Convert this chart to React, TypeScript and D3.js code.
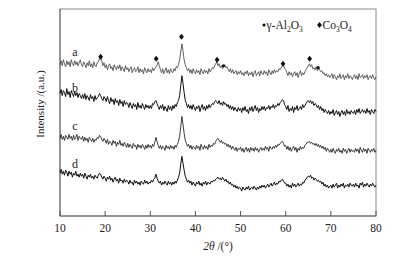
import React from "react";
import * as d3 from "d3";

// 2θ grid (degrees), 0.25° steps
const TWO_THETA: number[] = d3.range(10, 80.001, 0.25);
const X_TICKS = [10, 20, 30, 40, 50, 60, 70, 80];

// Intensities (a.u., arbitrary offset per curve)
const seriesA = [
  152,156,151,157,153,150,156,152,155,150,157,153,151,156,152,155,151,154,157,152,
  150,155,152,149,154,151,156,150,153,149,155,151,150,154,155,158,160,156,151,154,
  149,152,147,151,153,148,150,146,152,149,147,151,148,152,146,150,148,145,151,147,
  149,145,148,150,144,147,149,145,146,150,144,148,145,147,143,149,146,144,148,145,
  147,144,149,146,148,150,151,155,151,147,144,148,143,146,149,144,147,143,148,145,
  144,148,146,150,149,152,157,165,173,166,157,152,149,146,148,144,147,143,148,145,
  143,147,144,146,142,148,145,143,147,144,146,143,148,145,147,149,148,151,153,155,
  151,153,149,151,148,150,152,149,150,147,145,148,144,147,143,145,146,142,145,143,
  146,142,144,141,145,143,146,141,144,142,145,140,144,146,141,143,145,141,146,143,
  142,146,143,145,141,147,144,142,146,143,147,144,146,145,148,147,149,151,152,148,
  147,144,141,145,142,144,140,143,145,141,144,139,143,146,141,144,142,145,147,149,
  151,153,150,152,148,149,147,150,146,148,147,145,146,143,144,141,143,140,142,139,
  141,143,138,142,140,137,141,139,143,138,140,142,137,141,139,143,138,141,140,137,
  140,142,138,141,137,143,139,140,142,138,141,139,142,137,140,141,138,142,139,137,
  140,
];
const seriesB = [
  123,127,121,126,124,120,128,122,125,119,126,123,120,125,121,124,119,123,121,118,
  122,118,123,117,121,119,116,122,118,120,115,121,117,119,120,123,121,118,116,120,
  118,115,120,116,113,119,115,117,112,118,114,116,111,117,113,115,110,116,112,114,
  113,109,114,111,108,113,110,112,107,114,109,111,108,113,110,107,112,109,111,108,
  111,108,113,112,115,116,113,110,107,111,108,112,106,110,108,105,111,107,110,106,
  111,108,112,110,114,116,121,131,141,133,124,116,113,109,112,108,111,107,112,109,
  106,110,108,111,105,109,112,107,110,106,111,108,112,109,111,113,112,115,116,114,
  113,116,112,114,111,115,112,113,110,112,108,111,107,110,106,109,107,105,109,106,
  108,104,109,106,110,105,107,103,109,106,110,105,108,111,106,109,104,108,106,110,
  107,110,106,109,108,111,107,110,109,112,108,111,110,113,111,114,115,117,116,112,
  110,107,111,105,108,106,110,104,109,107,111,106,108,110,107,112,109,111,113,115,
  116,114,116,113,115,111,113,112,109,111,107,110,106,108,104,107,105,103,106,102,
  105,103,107,101,104,106,102,105,100,104,106,102,105,101,107,103,105,102,106,104,
  103,106,102,107,104,108,103,105,107,104,106,103,108,104,106,102,107,105,103,107,
  105,
];
const seriesC = [
  78,82,77,80,76,81,79,77,82,78,80,76,81,77,79,82,76,80,78,77,
  80,75,79,76,78,74,79,77,75,78,74,77,76,79,78,81,80,77,75,78,
  76,73,77,72,75,74,71,76,73,75,70,74,72,76,71,73,70,74,72,69,
  73,69,72,70,68,73,70,71,67,72,69,71,68,72,70,67,71,68,72,69,
  71,68,72,70,74,79,75,71,68,71,67,70,69,66,71,68,70,67,71,68,
  70,67,71,69,72,75,80,90,100,92,83,76,73,70,72,68,71,67,70,69,
  67,71,68,70,66,72,69,67,71,68,70,67,72,69,71,70,73,72,75,77,
  78,76,74,76,73,74,72,73,70,72,69,71,67,70,68,66,69,65,68,67,
  69,65,68,64,67,69,65,68,64,69,66,68,65,69,66,68,64,67,69,66,
  68,66,70,67,69,65,70,68,67,70,68,71,69,72,71,73,74,75,73,70,
  71,67,70,66,69,65,68,70,66,69,64,68,66,70,67,69,68,71,72,74,
  74,75,73,74,72,73,71,73,70,72,69,71,68,70,67,69,65,68,66,64,
  67,64,68,65,63,67,65,68,64,66,63,68,65,67,63,66,68,64,67,65,
  66,64,68,65,67,63,69,66,64,68,65,67,63,68,66,64,67,65,68,64,
  66,
];
const seriesD = [
  43,47,42,45,41,46,44,40,45,42,44,39,43,41,45,40,42,39,43,40,
  42,38,43,40,37,41,39,42,38,40,37,41,39,38,41,43,42,39,37,40,
  38,35,39,37,40,36,38,34,37,39,35,37,33,38,35,36,33,37,34,36,
  35,32,36,33,34,31,36,33,35,32,34,31,35,33,32,36,33,35,32,34,
  33,36,34,37,38,42,38,35,33,35,31,34,32,35,33,31,35,32,34,31,
  34,32,35,33,36,39,43,52,60,53,46,40,37,34,36,33,35,31,34,32,
  30,34,32,35,31,33,30,34,32,35,31,34,33,32,35,34,36,35,37,38,
  39,37,38,36,39,37,35,37,34,35,32,34,31,32,29,31,28,30,27,29,
  28,25,29,27,26,29,27,30,26,28,29,27,30,28,26,29,27,30,28,31,
  29,31,28,30,32,29,31,33,30,32,34,31,33,32,35,34,36,37,35,33,
  33,30,32,29,31,28,33,30,32,29,31,33,30,32,31,34,33,36,37,39,
  40,39,41,38,39,36,38,37,35,36,34,35,32,34,30,32,29,31,28,30,
  31,28,32,29,31,33,28,31,29,32,30,33,28,31,30,32,29,33,31,30,
  32,29,33,30,31,28,33,31,34,29,32,30,33,31,29,32,30,33,31,29,
  31,
];

const SERIES = [
  { name: "a", values: seriesA, color: "#444", width: 0.85, labelY: 161 },
  { name: "b", values: seriesB, color: "#0d0d0d", width: 1, labelY: 125 },
  { name: "c", values: seriesC, color: "#262626", width: 0.9, labelY: 86.5 },
  { name: "d", values: seriesD, color: "#0d0d0d", width: 1, labelY: 48.5 },
];

// phase markers above curve a
const co3o4Pos = [19, 31.3, 36.9, 44.8, 59.4, 65.3];
const co3o4Int = [160, 158, 180, 157, 153, 158];
const al2o3Pos = [46.2, 67.2];
const al2o3Int = [151, 149];

const W = 395;
const H = 260;
const M = { left: 60, right: 19, top: 9, bottom: 43 };
const FONT = "'Liberation Serif', 'Times New Roman', serif";

const diamond = (cx: number, cy: number) =>
  `M${cx},${cy - 3}L${cx + 2.4},${cy}L${cx},${cy + 3}L${cx - 2.4},${cy}Z`;

export default function App() {
  const x = d3.scaleLinear().domain([10, 80]).range([M.left, W - M.right]);
  const y = d3.scaleLinear().domain([0, 208]).range([H - M.bottom - 1, M.top]);
  const line = d3
    .line<number>()
    .x((_, i) => x(TWO_THETA[i]))
    .y((v) => y(v));
  const x0 = x(10);
  const x1 = x(80);
  const yTop = M.top;
  const yBot = H - M.bottom - 1;

  return (
    <svg
      width={W}
      height={H}
      style={{ position: "absolute", left: 0, top: 0, background: "#fff" }}
      fontFamily={FONT}
    >
      <rect x={0} y={0} width={W} height={H} fill="#fff" />
      {/* frame */}
      <rect x={x0} y={yTop} width={x1 - x0} height={yBot - yTop} fill="none" stroke="#8a8a8a" strokeWidth={1} />
      <line x1={x0} x2={x1} y1={yBot} y2={yBot} stroke="#666" />
      <line x1={x0} x2={x0} y1={yTop} y2={yBot} stroke="#666" />
      {/* x ticks */}
      {X_TICKS.map((t) => (
        <g key={t}>
          <line x1={x(t)} x2={x(t)} y1={yBot} y2={yBot - 5} stroke="#555" />
          <text x={x(t)} y={232} textAnchor="middle" fontSize={11.5} fill="#222">
            {t}
          </text>
        </g>
      ))}
      {/* axis titles */}
      <text x={(x0 + x1) / 2} y={250} textAnchor="middle" fontSize={11.5} fill="#222">
        <tspan fontStyle="italic">2θ</tspan> /(°)
      </text>
      <text
        transform={`translate(44,${104}) rotate(-90)`}
        textAnchor="middle"
        fontSize={11}
        fill="#222"
      >
        Intensity /(a.u.)
      </text>
      {/* curves */}
      {SERIES.map((s) => (
        <path key={s.name} d={line(s.values) || ""} fill="none" stroke={s.color} strokeWidth={s.width} strokeLinejoin="miter" />
      ))}
      {/* curve labels */}
      {SERIES.map((s) => (
        <text key={"l" + s.name} x={75} y={y(s.labelY)} textAnchor="middle" fontSize={12} fill="#222">
          {s.name}
        </text>
      ))}
      {/* markers */}
      {co3o4Pos.map((p, i) => (
        <path key={"d" + i} d={diamond(x(p), y(co3o4Int[i]))} fill="#111" />
      ))}
      {al2o3Pos.map((p, i) => (
        <circle key={"c" + i} cx={x(p)} cy={y(al2o3Int[i])} r={1.6} fill="#111" />
      ))}
      {/* legend */}
      <circle cx={264} cy={25} r={1.6} fill="#111" />
      <text x={266.5} y={29} fontSize={11.5} fill="#222">
        γ-Al<tspan fontSize={7.5} dy={3}>2</tspan>
        <tspan dy={-3}>O</tspan>
        <tspan fontSize={7.5} dy={3}>3</tspan>
      </text>
      <path d={diamond(319.5, 25)} fill="#111" />
      <text x={322.5} y={29} fontSize={11.5} fill="#222">
        Co<tspan fontSize={7.5} dy={3}>3</tspan>
        <tspan dy={-3}>O</tspan>
        <tspan fontSize={7.5} dy={3}>4</tspan>
      </text>
    </svg>
  );
}
